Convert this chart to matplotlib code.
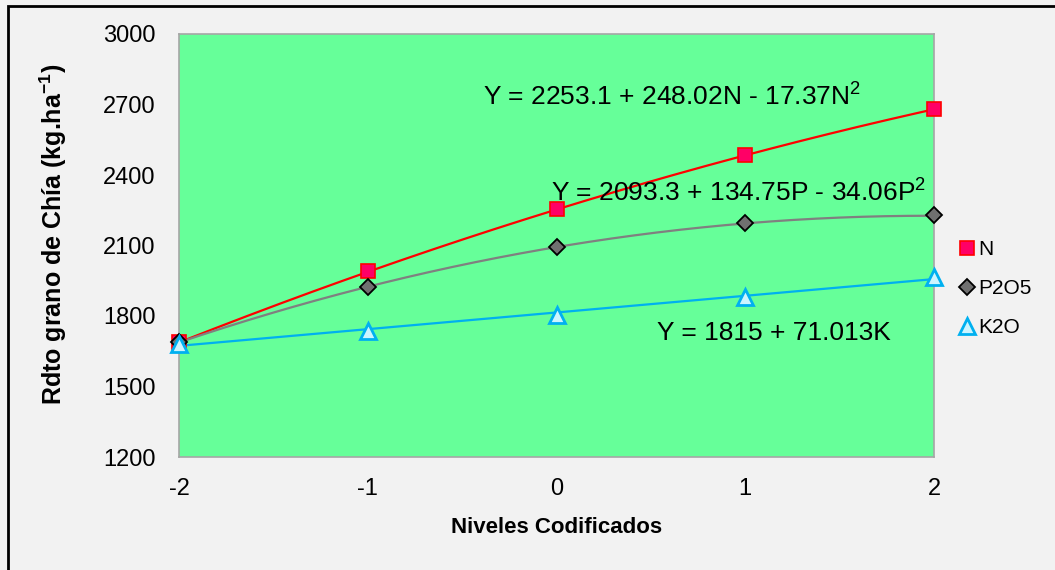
import numpy as np
import matplotlib.pyplot as plt
from matplotlib.patches import Rectangle

plt.rcParams['font.family'] = ['Liberation Sans', 'DejaVu Sans']
plt.rcParams['mathtext.fontset'] = 'custom'
plt.rcParams['mathtext.rm'] = 'Liberation Sans'
plt.rcParams['mathtext.bf'] = 'Liberation Sans:bold'
plt.rcParams['axes.unicode_minus'] = False

# niveles codificados y rendimiento observado
niveles = [-2, -1, 0, 1, 2]
rdto_N = [1690, 1990, 2255, 2485, 2680]
rdto_P = [1690, 1925, 2095, 2195, 2228]
rdto_K = [1680, 1738, 1805, 1880, 1965]

# coeficientes de las lineas de tendencia (grado mayor primero)
coef_N = [-17.37, 248.02, 2253.1]
coef_P = [-34.06, 134.75, 2093.3]
coef_K = [71.013, 1815]

eq_N = 'Y = 2253.1 + 248.02N - 17.37N$^2$'
eq_P = 'Y = 2093.3 + 134.75P - 34.06P$^2$'
eq_K = 'Y = 1815 + 71.013K'

fig = plt.figure(figsize=(10.55, 5.7), dpi=100, facecolor='#f2f2f2')
ax = fig.add_axes([179/1055, 1 - 457/570, 755/1055, 423/570])
ax.set_facecolor('#66ff99')

xs = np.linspace(-2, 2, 200)
ax.plot(xs, np.polyval(coef_N, xs), color='#ff0000', lw=1.6, zorder=2)
ax.plot(xs, np.polyval(coef_P, xs), color='#808080', lw=1.6, zorder=2)
ax.plot(xs, np.polyval(coef_K, xs), color='#00b0f0', lw=1.6, zorder=2)

ax.plot(niveles, rdto_N, ls='none', marker='s', ms=10, mfc='#ff0066',
        mec='#ff0000', mew=1.2, label='N', zorder=3, clip_on=False)
ax.plot(niveles, rdto_P, ls='none', marker='D', ms=8.5, mfc='#707070',
        mec='#000000', mew=1.3, label='P2O5', zorder=4, clip_on=False)
ax.plot(niveles, rdto_K, ls='none', marker='^', ms=11, mfc='#ccf5ff',
        mec='#00b0f0', mew=2, label='K2O', zorder=5, clip_on=False)

ax.text(-0.39, 2736, eq_N, fontsize=19, va='center', ha='left')
ax.text(-0.03, 2328, eq_P, fontsize=19, va='center', ha='left')
ax.text(0.53, 1728, eq_K, fontsize=19, va='center', ha='left')

ax.set_xlim(-2, 2)
ax.set_ylim(1200, 3000)
ax.set_xticks(niveles)
ax.set_yticks(range(1200, 3001, 300))
ax.tick_params(length=0, labelsize=17)
ax.tick_params(axis='x', pad=15)
ax.tick_params(axis='y', pad=17)
for s in ax.spines.values():
    s.set_color('#a6a6a6')
    s.set_linewidth(1.2)

ax.set_xlabel('Niveles Codificados', fontsize=16, fontweight='bold')
ax.xaxis.set_label_coords(0.5, -(517 - 457) / 423)
ax.set_ylabel(r'Rdto grano de Chía (kg.ha$\mathbf{^{-1}}$)', fontsize=18,
              fontweight='bold')
ax.yaxis.set_label_coords(-(179 - 69) / 755, (457 - 234) / 423)

ax.legend(loc='upper left', bbox_to_anchor=(1.0 + 18/755, 1 - (232 - 34) / 423),
          frameon=False, fontsize=15, handlelength=0.6, handletextpad=0.25,
          labelspacing=0.95, borderaxespad=0.2, borderpad=0.2)

# marco exterior del grafico
fig.patches.append(Rectangle((8/1055, -0.1), 1.2, 1 - 6/570 + 0.1,
                             transform=fig.transFigure, fill=False,
                             edgecolor='black', lw=2))

fig.savefig('out.png', dpi=100, facecolor=fig.get_facecolor())
